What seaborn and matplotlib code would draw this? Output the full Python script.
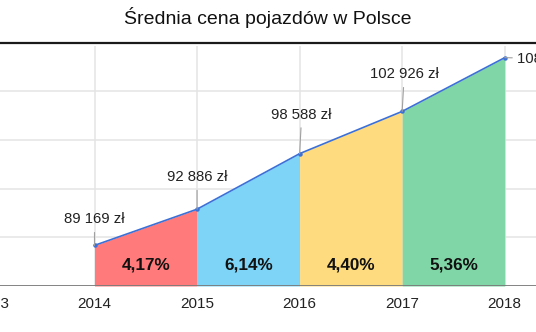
import matplotlib
matplotlib.use("Agg")
import matplotlib.pyplot as plt
from matplotlib.lines import Line2D
import seaborn as sns
import pandas as pd

# Average vehicle price in Poland, by year
years = [2014, 2015, 2016, 2017, 2018]
prices = [89169, 92886, 98588, 102926, 108443]
growth_labels = ["4,17%", "6,14%", "4,40%", "5,36%"]
tick_years = [2013, 2014, 2015, 2016, 2017, 2018]
fill_colors = ["#ff7b7b", "#7dd4f7", "#ffdb7f", "#80d6a6"]
title = "Średnia cena pojazdów w Polsce"

sns.set_style("white")
plt.rcParams["font.family"] = ["Liberation Sans", "DejaVu Sans"]

df = pd.DataFrame({"rok": years, "cena": prices})

fig = plt.figure(figsize=(5.36, 3.32), dpi=100)
# plot area runs slightly past the left edge of the canvas
ax = fig.add_axes([-20 / 536, 0.13855, 556 / 536, 0.7229])

# Coloured area for each year-to-year interval
for i in range(len(years) - 1):
    ax.fill_between(years[i:i + 2], [85000, 85000], prices[i:i + 2],
                    color=fill_colors[i], linewidth=0, zorder=2)

sns.lineplot(data=df, x="rok", y="cena", ax=ax, color="#3c70d6",
             linewidth=1.2, marker="o", markersize=3.2,
             markeredgewidth=0, zorder=4)

ax.set_xticks(tick_years)
ax.set_xticklabels([str(y) for y in tick_years], fontsize=11, color="#222222")
ax.set_yticks([90000, 95000, 100000, 105000])
ax.set_yticklabels([])
ax.set_xlim(2012.8835, 2018.305)
ax.set_ylim(85000, 109640)
ax.tick_params(axis="both", length=0)
ax.tick_params(axis="x", pad=8)
ax.grid(True, color="#e4e4e4", linewidth=1.1, zorder=0)
ax.set_axisbelow(True)
for s in ax.spines.values():
    s.set_visible(False)
ax.axhline(85000, color="#7a7a7a", linewidth=1.3, zorder=5)
ax.set_xlabel("")
ax.set_ylabel("")

# Value labels with leader lines
offsets = [(0, 18.7), (0, 23), (1.5, 28), (1.5, 26.6)]
for x, v, off in zip(years[:-1], prices[:-1], offsets):
    txt = f"{v:,}".replace(",", " ") + " zł"
    ax.annotate(txt, xy=(x, v), xytext=off, textcoords="offset points",
                ha="center", va="center", fontsize=10.7, color="#222222",
                arrowprops=dict(arrowstyle="-", color="#a0a0a0", lw=0.8,
                                shrinkA=2, shrinkB=0), zorder=6)
last = f"{prices[-1]:,}".replace(",", " ") + " zł"
ax.annotate(last, xy=(years[-1], prices[-1]), xytext=(8.8, -0.7),
            textcoords="offset points", ha="left", va="center",
            fontsize=10.7, color="#222222", annotation_clip=False,
            arrowprops=dict(arrowstyle="-", color="#a0a0a0", lw=0.8,
                            shrinkA=1, shrinkB=0), zorder=6)

# Growth percentages inside each area
for i, lab in enumerate(growth_labels):
    xm = (years[i] + years[i + 1]) / 2
    ax.annotate(lab, xy=(xm, 85000), xytext=(0, 15), textcoords="offset points",
                ha="center", va="center", fontsize=12.3, fontweight="bold",
                color="#111111", zorder=6)

# Heavy rule above the plot
fig.add_artist(Line2D([0, 1], [1 - 43 / 332, 1 - 43 / 332],
                      transform=fig.transFigure, color="#1a1a1a", linewidth=1.6))

fig.text(0.5, 1 - 18 / 332, title, ha="center", va="center",
         fontsize=14, color="#111111")

fig.savefig("out.png", dpi=100)
